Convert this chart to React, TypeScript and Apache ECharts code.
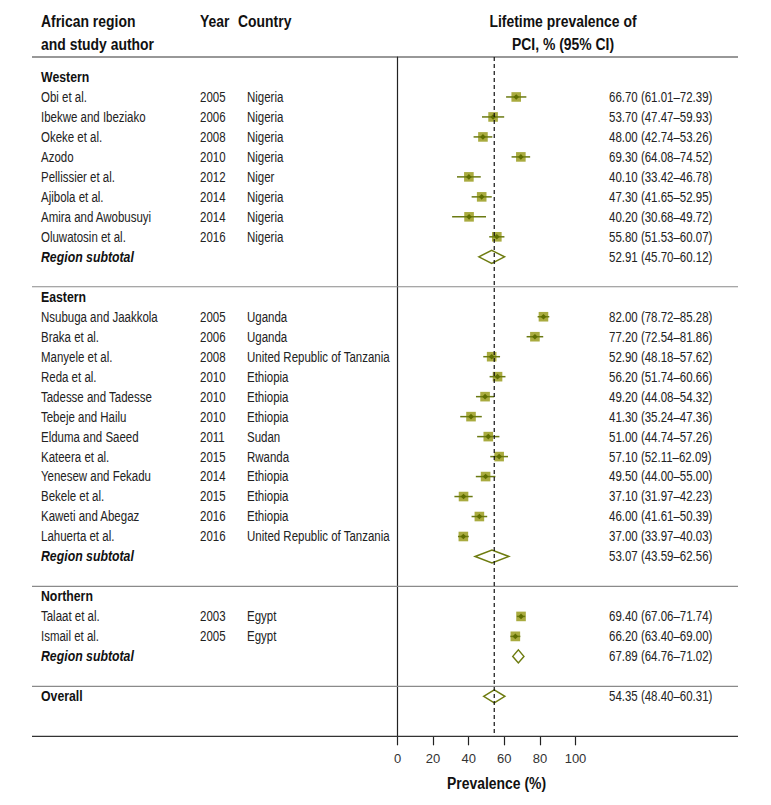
import * as echarts from "echarts";
import { useEffect, useRef } from "react";

// ---------- data ----------
const westernStudies = ["Obi et al.", "Ibekwe and Ibeziako", "Okeke et al.", "Azodo", "Pellissier et al.", "Ajibola et al.", "Amira and Awobusuyi", "Oluwatosin et al."];
const westernYears = [2005, 2006, 2008, 2010, 2012, 2014, 2014, 2016];
const westernCountries = ["Nigeria", "Nigeria", "Nigeria", "Nigeria", "Niger", "Nigeria", "Nigeria", "Nigeria"];
const westernEst = [66.7, 53.7, 48.0, 69.3, 40.1, 47.3, 40.2, 55.8];
const westernLow = [61.01, 47.47, 42.74, 64.08, 33.42, 41.65, 30.68, 51.53];
const westernHigh = [72.39, 59.93, 53.26, 74.52, 46.78, 52.95, 49.72, 60.07];
const westernSubtotal = [52.91, 45.7, 60.12];

const easternStudies = ["Nsubuga and Jaakkola", "Braka et al.", "Manyele et al.", "Reda et al.", "Tadesse and Tadesse", "Tebeje and Hailu", "Elduma and Saeed", "Kateera et al.", "Yenesew and Fekadu", "Bekele et al.", "Kaweti and Abegaz", "Lahuerta et al."];
const easternYears = [2005, 2006, 2008, 2010, 2010, 2010, 2011, 2015, 2014, 2015, 2016, 2016];
const easternCountries = ["Uganda", "Uganda", "United Republic of Tanzania", "Ethiopia", "Ethiopia", "Ethiopia", "Sudan", "Rwanda", "Ethiopia", "Ethiopia", "Ethiopia", "United Republic of Tanzania"];
const easternEst = [82.0, 77.2, 52.9, 56.2, 49.2, 41.3, 51.0, 57.1, 49.5, 37.1, 46.0, 37.0];
const easternLow = [78.72, 72.54, 48.18, 51.74, 44.08, 35.24, 44.74, 52.11, 44.0, 31.97, 41.61, 33.97];
const easternHigh = [85.28, 81.86, 57.62, 60.66, 54.32, 47.36, 57.26, 62.09, 55.0, 42.23, 50.39, 40.03];
const easternSubtotal = [53.07, 43.59, 62.56];

const northernStudies = ["Talaat et al.", "Ismail et al."];
const northernYears = [2003, 2005];
const northernCountries = ["Egypt", "Egypt"];
const northernEst = [69.4, 66.2];
const northernLow = [67.06, 63.4];
const northernHigh = [71.74, 69.0];
const northernSubtotal = [67.89, 64.76, 71.02];

const overall = [54.35, 48.4, 60.31];

const xTicks = [0, 20, 40, 60, 80, 100];

// ---------- layout / style ----------
const FONT = "'Liberation Sans', Arial, sans-serif";
const NARROW = 0.82;
const TEXT = "#222";
const SQ_FILL = "#a9ab3f";
const DARK = "#5f6e00";
const LINE_OLIVE = "#6b7a12";
const DIAMOND = "#6e7c10";
const X_AUTHOR = 41;
const X_YEAR = 200;
const X_COUNTRY = 247;
const X_CI = 609;
const LINE_L = 32;
const LINE_R = 738;

type Row = {
  kind: string;
  pos: number;
  label?: string;
  year?: number;
  country?: string;
  est?: number;
  lo?: number;
  hi?: number;
  color?: string;
};

const rows: Row[] = [];
let pos = -1;
function addGroup(name: string, studies: string[], years: number[], countries: string[], est: number[], lo: number[], hi: number[], sub: number[]) {
  rows.push({ kind: "header", pos, label: name });
  pos += 1;
  studies.forEach((s, i) => {
    rows.push({ kind: "study", pos, label: s, year: years[i], country: countries[i], est: est[i], lo: lo[i], hi: hi[i] });
    pos += 1;
  });
  rows.push({ kind: "subtotal", pos, label: "Region subtotal", est: sub[0], lo: sub[1], hi: sub[2] });
  pos += 1.5;
  rows.push({ kind: "line", pos, color: "#8a8a8a" });
  pos += 0.5;
}
rows.push({ kind: "line", pos: -2, color: "#333" });
addGroup("Western", westernStudies, westernYears, westernCountries, westernEst, westernLow, westernHigh, westernSubtotal);
addGroup("Eastern", easternStudies, easternYears, easternCountries, easternEst, easternLow, easternHigh, easternSubtotal);
addGroup("Northern", northernStudies, northernYears, northernCountries, northernEst, northernLow, northernHigh, northernSubtotal);
rows.push({ kind: "overall", pos, label: "Overall", est: overall[0], lo: overall[1], hi: overall[2] });
const Y_MIN = -2;
const Y_MAX = pos + 2;
rows.push({ kind: "line", pos: Y_MAX, color: "#333" });
rows.push({ kind: "ref", pos: 0, est: overall[0] });

const fmt = (v: number) => v.toFixed(2);
const ciText = (r: Row) => `${fmt(r.est!)} (${fmt(r.lo!)}–${fmt(r.hi!)})`;

function txt(text: string, x: number, y: number, opts: any = {}) {
  return {
    type: "text",
    x,
    y,
    scaleX: NARROW,
    style: {
      text,
      x: 0,
      y: 0,
      fill: TEXT,
      fontSize: 14,
      fontFamily: FONT,
      align: "left",
      verticalAlign: "middle",
      ...opts,
    },
  };
}

function renderItem(params: any, api: any) {
  const r = rows[params.dataIndex];
  const y = api.coord([0, r.pos])[1];
  const children: any[] = [];
  if (r.kind === "line") {
    children.push({ type: "line", shape: { x1: LINE_L, y1: y, x2: LINE_R, y2: y }, style: { stroke: r.color, lineWidth: 1.2 } });
  } else if (r.kind === "ref") {
    const x = api.coord([r.est, 0])[0];
    const yt = api.coord([0, Y_MIN])[1];
    const yb = api.coord([0, Y_MAX])[1];
    children.push({ type: "line", shape: { x1: x, y1: yt, x2: x, y2: yb }, style: { stroke: "#111", lineWidth: 1.2, lineDash: [4, 3] } });
  } else if (r.kind === "header") {
    children.push(txt(r.label!, X_AUTHOR, y, { fontWeight: "bold", fontSize: 15, fill: "#111" }));
  } else if (r.kind === "study") {
    children.push(txt(r.label!, X_AUTHOR, y));
    children.push(txt(String(r.year), X_YEAR, y));
    children.push(txt(r.country!, X_COUNTRY, y));
    children.push(txt(ciText(r), X_CI, y));
    const cx = api.coord([r.est, 0])[0];
    const xl = api.coord([r.lo, 0])[0];
    const xr = api.coord([r.hi, 0])[0];
    const h = 4.8;
    children.push({ type: "rect", shape: { x: cx - h, y: y - h, width: 2 * h, height: 2 * h }, style: { fill: SQ_FILL } });
    children.push({ type: "line", shape: { x1: xl, y1: y, x2: xr, y2: y }, style: { stroke: LINE_OLIVE, lineWidth: 1.5 } });
    const d = 2.8;
    children.push({ type: "polygon", shape: { points: [[cx - d, y], [cx, y - d], [cx + d, y], [cx, y + d]] }, style: { fill: DARK } });
  } else if (r.kind === "subtotal" || r.kind === "overall") {
    if (r.kind === "subtotal") {
      children.push(txt(r.label!, X_AUTHOR, y, { fontWeight: "bold", fontStyle: "italic", fontSize: 15, fill: "#111" }));
    } else {
      children.push(txt(r.label!, X_AUTHOR, y, { fontWeight: "bold", fontSize: 15, fill: "#111" }));
    }
    children.push(txt(ciText(r), X_CI, y));
    const cx = api.coord([r.est, 0])[0];
    const xl = api.coord([r.lo, 0])[0];
    const xr = api.coord([r.hi, 0])[0];
    const hh = 6.5;
    children.push({
      type: "polygon",
      shape: { points: [[xl, y], [cx, y - hh], [xr, y], [cx, y + hh]] },
      style: { fill: "#fff", stroke: DIAMOND, lineWidth: 1.5 },
    });
  }
  return { type: "group", children };
}

function headText(text: string, x: number, y: number, align: string) {
  return {
    type: "text",
    x,
    y,
    scaleX: NARROW,
    style: { text, x: 0, y: 0, align, verticalAlign: "middle", fontSize: 17, fontWeight: "bold", fontFamily: FONT, fill: "#111" },
  };
}

const option: any = {
  animation: false,
  backgroundColor: "#fff",
  grid: { left: 397.5, top: 57, width: 178, height: 679.3, containLabel: false },
  xAxis: {
    type: "value",
    min: 0,
    max: 100,
    interval: 20,
    axisLine: { show: false, onZero: false },
    axisTick: { show: true, length: 9, lineStyle: { color: "#222", width: 1.2 } },
    axisLabel: {
      show: true,
      margin: 16,
      fontSize: 13,
      fontFamily: FONT,
      color: "#333",
      formatter: (v: number) => (xTicks.includes(v) ? String(v) : ""),
    },
    splitLine: { show: false },
  },
  yAxis: {
    type: "value",
    min: Y_MIN,
    max: Y_MAX,
    inverse: true,
    axisLine: { show: true, onZero: false, lineStyle: { color: "#222", width: 1.2 } },
    axisTick: { show: false },
    axisLabel: { show: false },
    splitLine: { show: false },
  },
  series: [
    {
      type: "custom",
      clip: false,
      renderItem,
      data: rows.map((r) => [r.est ?? 0, r.pos]),
      silent: true,
    },
  ],
  graphic: [
    headText("African region", X_AUTHOR, 21, "left"),
    headText("and study author", X_AUTHOR, 44, "left"),
    headText("Year", X_YEAR, 21, "left"),
    headText("Country", 238, 21, "left"),
    headText("Lifetime prevalence of", 563, 21, "center"),
    headText("PCI, % (95% CI)", 563, 44, "center"),
    headText("Prevalence (%)", 496.5, 783, "center"),
  ],
};

export default function App() {
  const ref = useRef<HTMLDivElement>(null);
  useEffect(() => {
    const chart = echarts.init(ref.current!, null, { renderer: "svg" });
    chart.setOption(option);
    return () => chart.dispose();
  }, []);
  return <div ref={ref} style={{ position: "fixed", left: 0, top: 0, width: 771, height: 805, background: "#fff" }} />;
}
